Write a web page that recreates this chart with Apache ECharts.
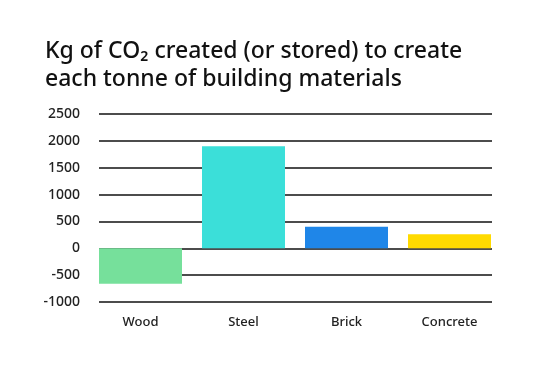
<!DOCTYPE html>
<html><head><meta charset="utf-8">
<script src="https://cdn.jsdelivr.net/npm/echarts@6/dist/echarts.min.js"></script>
<style>html,body{margin:0;padding:0;background:#fff}#c{width:540px;height:367px}</style>
</head><body><div id="c"></div>
<script>
const categories = ['Wood', 'Steel', 'Brick', 'Concrete'];
const values = [-660, 1900, 400, 260];
const colors = ['#76E09B', '#3BDFD9', '#1F86E8', '#FFDA00'];
const yTicks = { min: -1000, max: 2500, interval: 500 };

const FONT = 'Noto Sans';
const chart = echarts.init(document.getElementById('c'));
chart.setOption({
  backgroundColor: '#fff',
  animation: false,
  title: {
    text: 'Kg of CO\u2082 created (or stored) to create\neach tonne of building materials',
    left: 40, top: 32,
    textStyle: { fontFamily: FONT, fontWeight: 500, fontSize: 23, lineHeight: 28, color: '#111' }
  },
  grid: [
    { left: 99, right: 48, top: 114, bottom: 65 },
    { left: 89, right: 39, top: 114, bottom: 65 }
  ],
  xAxis: [
    { gridIndex: 0, type: 'value', show: false, min: 0, max: 1 },
    { gridIndex: 1, type: 'category', data: categories,
      axisLine: { show: false }, axisTick: { show: false },
      axisLabel: { margin: 14, fontSize: 13, fontWeight: 500, color: '#222', fontFamily: FONT } }
  ],
  yAxis: [
    { gridIndex: 0, type: 'value', min: yTicks.min, max: yTicks.max, interval: yTicks.interval,
      axisLine: { show: false }, axisTick: { show: false },
      axisLabel: { margin: 19, fontSize: 14, fontWeight: 500, color: '#222', fontFamily: FONT,
        formatter: v => String(v) },
      splitLine: { lineStyle: { color: '#111', width: 1.5 } } },
    { gridIndex: 1, type: 'value', min: yTicks.min, max: yTicks.max, interval: yTicks.interval, show: false,
      splitLine: { show: false } }
  ],
  series: [{
    type: 'bar', xAxisIndex: 1, yAxisIndex: 1, barWidth: 83,
    data: values.map((v, i) => ({ value: v, itemStyle: { color: colors[i] } }))
  }]
});
</script></body></html>
